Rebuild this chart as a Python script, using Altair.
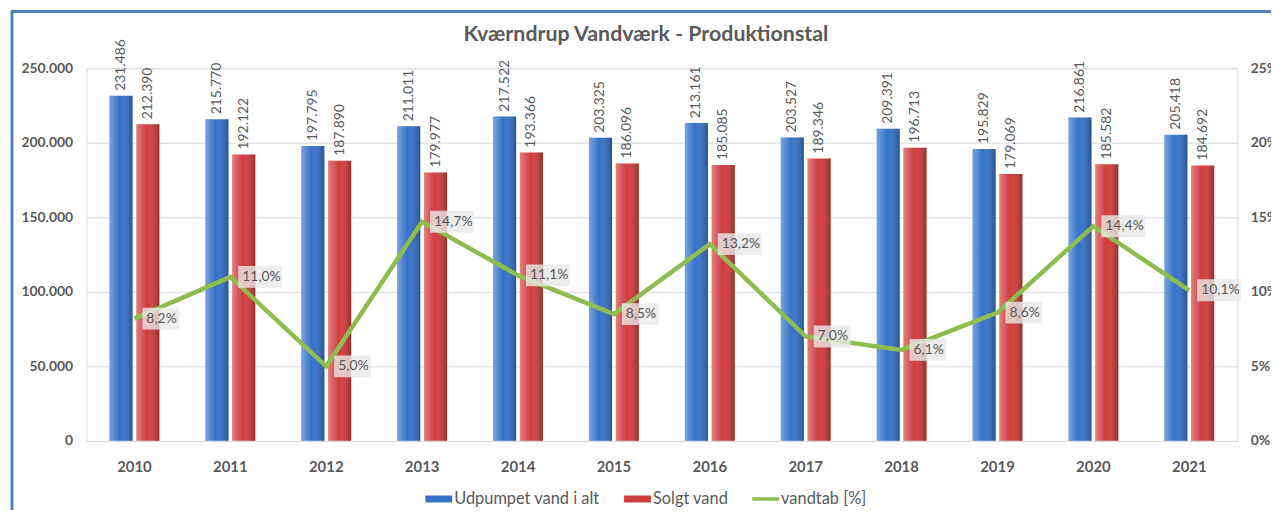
import altair as alt
import pandas as pd

years = ["2010", "2011", "2012", "2013", "2014", "2015", "2016", "2017", "2018", "2019", "2020", "2021"]
pumped = [231486, 215770, 197795, 211011, 217522, 203325, 213161, 203527, 209391, 195829, 216861, 205418]
sold = [212390, 192122, 187890, 179977, 193366, 186096, 185085, 189346, 196713, 179069, 185582, 184692]
loss = [8.2, 11.0, 5.0, 14.7, 11.1, 8.5, 13.2, 7.0, 6.1, 8.6, 14.4, 10.1]
series = ["Udpumpet vand i alt", "Solgt vand", "vandtab [%]"]
left_ticks = [0, 50000, 100000, 150000, 200000, 250000]
right_ticks = [0, 5, 10, 15, 20, 25]

bars_df = pd.DataFrame({
    "year": years * 2,
    "series": [series[0]] * len(years) + [series[1]] * len(years),
    "value": pumped + sold,
})
loss_df = pd.DataFrame({"year": years, "loss": loss})

FONT = "Lato"
GREY = "#595959"
BLUE = "#3571c8"
RED = "#d23c3c"
GREEN = "#8fbc4f"

x_enc = alt.X(
    "year:N",
    sort=years,
    scale=alt.Scale(paddingInner=0.48, paddingOuter=0.24),
    axis=alt.Axis(title=None, labelAngle=0, ticks=False, domain=False, labelFont=FONT,
                  labelFontSize=15, labelFontWeight="bold", labelColor=GREY, labelPadding=19),
)
xoff = alt.XOffset("series:N", sort=series[:2],
                   scale=alt.Scale(domain=series[:2], paddingInner=0.14))
y_bar = alt.Y(
    "value:Q",
    scale=alt.Scale(domain=[0, 250000], nice=False),
    axis=alt.Axis(title=None, values=left_ticks, orient="left", domain=False, ticks=False,
                  grid=True, gridColor="#d9d9d9", gridWidth=1,
                  labelExpr="replace(format(datum.value, ','), ',', '.')",
                  labelFont=FONT, labelFontSize=14, labelFontWeight="bold",
                  labelColor=GREY, labelPadding=14),
)

legend = alt.Legend(
    title=None, orient="none", legendX=341, legendY=420, direction="horizontal",
    symbolType={"expr": "datum.value === 'vandtab [%]' ? 'M-1,-0.13H1V0.13H-1Z' : 'M-1,-0.26H1V0.26H-1Z'"},
    symbolSize=729, symbolStrokeWidth=0, symbolOpacity=1,
    labelFont=FONT, labelFontSize=16.5, labelColor=GREY, labelOffset=2, columnPadding=24,
)

bars = alt.Chart(bars_df).mark_bar().encode(
    x=x_enc, xOffset=xoff, y=y_bar,
    color=alt.Color("series:N", scale=alt.Scale(domain=series, range=[BLUE, RED, GREEN]), legend=legend),
)

shade = alt.Chart(bars_df).mark_bar(
    fill=alt.Gradient(
        gradient="linear", x1=0, x2=1, y1=0, y2=0,
        stops=[
            alt.GradientStop(color="rgba(255,255,255,0.35)", offset=0),
            alt.GradientStop(color="rgba(255,255,255,0.0)", offset=0.45),
            alt.GradientStop(color="rgba(0,0,0,0.28)", offset=1),
        ],
    )
).encode(x=x_enc, xOffset=xoff, y=y_bar)

bar_labels = alt.Chart(bars_df).transform_calculate(
    label="replace(format(datum.value, ','), ',', '.')"
).mark_text(angle=270, align="left", baseline="middle", dx=5, font=FONT,
            fontSize=14, color=GREY).encode(
    x=x_enc, xOffset=xoff, y=y_bar, text="label:N"
)

bar_layer = alt.layer(bars, shade, bar_labels)

y_loss = alt.Y(
    "loss:Q",
    scale=alt.Scale(domain=[0, 25], nice=False),
    axis=alt.Axis(title=None, values=right_ticks, orient="right", domain=False, ticks=False,
                  grid=False, labelExpr="datum.value + '%'",
                  labelFont=FONT, labelFontSize=14, labelFontWeight="bold",
                  labelColor=GREY, labelPadding=13),
)

line = alt.Chart(loss_df).mark_line(color=GREEN, strokeWidth=4.5).encode(x=x_enc, y=y_loss)

boxes = alt.Chart(loss_df).transform_calculate(
    label="replace(format(datum.loss, '.1f'), '.', ',') + '%'"
).transform_calculate(
    box="length(datum.label) > 4 ? 'M0.8,-1.1H5.2V1.1H0.8Z' : 'M0.8,-1.1H4.5V1.1H0.8Z'"
).mark_point(filled=True, size=400, fill="#e9e9e9", opacity=0.8, strokeWidth=0).encode(
    x=x_enc, y=y_loss, shape=alt.Shape("box:N", scale=None)
)

loss_labels = alt.Chart(loss_df).transform_calculate(
    label="replace(format(datum.loss, '.1f'), '.', ',') + '%'"
).mark_text(align="left", baseline="middle", dx=12, font=FONT, fontSize=14, color=GREY).encode(
    x=x_enc, y=y_loss, text="label:N"
)

line_layer = alt.layer(line, boxes, loss_labels)

frame_data = alt.Data(values=[{"k": 1}])
frame_left = alt.Chart(frame_data).mark_rule(color="#4f81bd", strokeWidth=3).encode(
    x=alt.value(-75), y=alt.value(-57), y2=alt.value(460)
)
frame_top = alt.Chart(frame_data).mark_rule(color="#4f81bd", strokeWidth=3).encode(
    x=alt.value(-76), x2=alt.value(1200), y=alt.value(-57)
)

chart = alt.layer(bar_layer, line_layer, frame_left, frame_top).resolve_scale(
    y="independent"
).properties(
    width=1158,
    height=375,
    title=alt.TitleParams(
        "Kværndrup Vandværk - Produktionstal", font=FONT, fontSize=21.5, fontWeight="bold",
        color=GREY, anchor="middle", dx=-16, dy=40,
    ),
    autosize=alt.AutoSizeParams(type="none"),
    padding={"left": 79, "top": 59, "right": 34, "bottom": 68},
).configure_view(stroke=None).configure(background="white")

chart.save("out.html", embed_options={"renderer": "svg", "actions": False})
